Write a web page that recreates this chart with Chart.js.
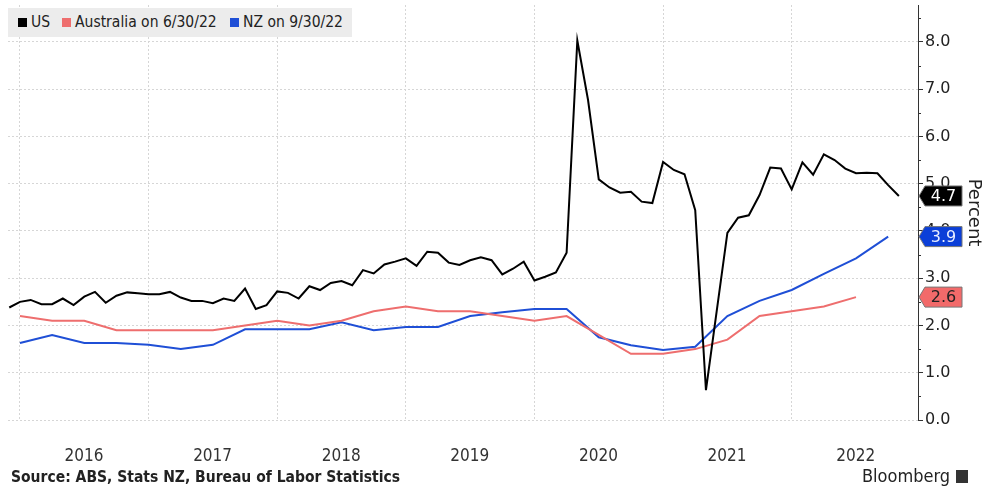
<!DOCTYPE html>
<html lang="en">
<head>
<meta charset="UTF-8">
<title>Wage growth: US, Australia, NZ</title>
<script src="https://cdn.jsdelivr.net/npm/chart.js@4.4.1/dist/chart.umd.min.js"></script>
<style>
  html, body { margin: 0; padding: 0; background: #fff; }
  .wrap { position: relative; width: 984px; height: 486px; overflow: hidden; }
  canvas { position: absolute; left: 0; top: 0; }
  .legend {
    position: absolute; left: 8px; top: 8px; width: 344px; height: 29px;
    background: #ececec; color: #222;
    font: 15.5px "DejaVu Sans Condensed", "DejaVu Sans", sans-serif;
  }
  .legend span.item { position: absolute; top: 5px; white-space: nowrap; }
  .legend i { display: inline-block; width: 9px; height: 9px; margin-right: 4px; vertical-align: 0px; }
  .source {
    position: absolute; left: 11px; top: 468px; color: #222;
    font: bold 15.5px "DejaVu Sans Condensed", "DejaVu Sans", sans-serif;
  }
  .brand {
    position: absolute; left: 862px; top: 465px; color: #222;
    font: 18px "DejaVu Sans Condensed", "DejaVu Sans", sans-serif;
  }
  .brand b { display: inline-block; width: 12px; height: 13px; background: #333; margin-left: 6px; vertical-align: -1px; }
</style>
</head>
<body>
<div class="wrap">
  <canvas id="wages" width="984" height="486"></canvas>
  <div class="legend">
    <span class="item" style="left:10px"><i style="background:#000"></i>US</span>
    <span class="item" style="left:54px"><i style="background:#ee6e6e"></i>Australia on 6/30/22</span>
    <span class="item" style="left:222px"><i style="background:#1f4fd6"></i>NZ on 9/30/22</span>
  </div>
  <div class="source">Source: ABS, Stats NZ, Bureau of Labor Statistics</div>
  <div class="brand">Bloomberg<b></b></div>
</div>

<script>
// --- data ---
// US: monthly, first point Nov 2015
const usStart = [2015, 11];
const usValues = [
  2.38, 2.50,
  2.54, 2.45, 2.45, 2.57, 2.43, 2.61, 2.71, 2.48, 2.63, 2.70, 2.68, 2.66,
  2.66, 2.71, 2.59, 2.52, 2.52, 2.47, 2.57, 2.52, 2.78, 2.35, 2.43, 2.72,
  2.69, 2.57, 2.83, 2.75, 2.90, 2.94, 2.85, 3.17, 3.10, 3.29, 3.35, 3.42,
  3.26, 3.56, 3.54, 3.33, 3.28, 3.38, 3.44, 3.38, 3.08, 3.20, 3.35, 2.95,
  3.03, 3.12, 3.54, 8.03, 6.77, 5.09, 4.92, 4.81, 4.83, 4.62, 4.59, 5.46,
  5.29, 5.20, 4.44, 0.63, 2.30, 3.96, 4.28, 4.33, 4.76, 5.34, 5.32, 4.88,
  5.45, 5.19, 5.62, 5.50, 5.32, 5.22, 5.23, 5.22, 4.97, 4.74
];
// Australia: quarterly, first point Dec 2015 (to Jun 2022)
const auStart = [2015, 12];
const auValues = [
  2.2,
  2.1, 2.1, 1.9, 1.9,
  1.9, 1.9, 2.0, 2.1,
  2.0, 2.1, 2.3, 2.4,
  2.3, 2.3, 2.2, 2.1,
  2.2, 1.8, 1.4, 1.4,
  1.5, 1.7, 2.2, 2.3,
  2.4, 2.6
];
// NZ: quarterly, first point Dec 2015 (to Sep 2022)
const nzStart = [2015, 12];
const nzValues = [
  1.63,
  1.80, 1.63, 1.63, 1.59,
  1.50, 1.59, 1.92, 1.92,
  1.92, 2.07, 1.90, 1.97,
  1.97, 2.20, 2.28, 2.35,
  2.35, 1.75, 1.58, 1.48,
  1.55, 2.20, 2.52, 2.75,
  3.09, 3.42, 3.88
];
const yearTicks = [2016, 2017, 2018, 2019, 2020, 2021, 2022];
const yearLabels = ['2016', '2017', '2018', '2019', '2020', '2021', '2022'];
const yTickLabels = ['0.0', '1.0', '2.0', '3.0', '4.0', '5.0', '6.0', '7.0', '8.0'];

// month-end position as a decimal year
function toPoints(start, values, stepMonths) {
  return values.map((v, i) => ({
    x: start[0] + (start[1] + i * stepMonths) / 12,
    y: v
  }));
}

const series = [
  { label: 'US', values: usValues, start: usStart, step: 1, color: '#000000', badge: '#000000', text: '#ffffff' },
  { label: 'Australia on 6/30/22', values: auValues, start: auStart, step: 3, color: '#ee6e6e', badge: '#f26a6a', text: '#222222' },
  { label: 'NZ on 9/30/22', values: nzValues, start: nzStart, step: 3, color: '#1f4fd6', badge: '#0b3fd8', text: '#e8eeff' }
];

const FONT = '"DejaVu Sans", sans-serif';

// last-value tags on the right axis + minor ticks
const axisExtras = {
  id: 'axisExtras',
  afterDraw(chart) {
    const ctx = chart.ctx;
    const y = chart.scales.y;
    const x0 = chart.chartArea.right;
    ctx.save();
    ctx.strokeStyle = '#333';
    ctx.lineWidth = 1;
    for (let v = 0.5; v < 8.6; v += 1) {
      const py = Math.round(y.getPixelForValue(v)) + 0.5;
      ctx.beginPath();
      ctx.moveTo(x0, py);
      ctx.lineTo(x0 + 3, py);
      ctx.stroke();
    }
    series.forEach(s => {
      const last = s.values[s.values.length - 1];
      const py = y.getPixelForValue(last);
      const h = 20, tip = 6, w = 43, bx = x0 + 1;
      ctx.beginPath();
      ctx.moveTo(bx, py);
      ctx.lineTo(bx + tip, py - h / 2);
      ctx.lineTo(bx + w, py - h / 2);
      ctx.lineTo(bx + w, py + h / 2);
      ctx.lineTo(bx + tip, py + h / 2);
      ctx.closePath();
      ctx.fillStyle = s.badge;
      ctx.fill();
      ctx.strokeStyle = '#777';
      ctx.stroke();
      ctx.fillStyle = s.text;
      ctx.font = '16px ' + FONT;
      ctx.textAlign = 'center';
      ctx.textBaseline = 'middle';
      ctx.fillText(last.toFixed(1), bx + tip + (w - tip) / 2, py + 1);
    });
    ctx.restore();
  }
};

new Chart(document.getElementById('wages'), {
  type: 'line',
  data: {
    datasets: series.map(s => ({
      label: s.label,
      data: toPoints(s.start, s.values, s.step),
      borderColor: s.color,
      backgroundColor: s.color,
      borderWidth: 2,
      pointRadius: 0,
      tension: 0
    }))
  },
  options: {
    responsive: false,
    animation: false,
    layout: { padding: { left: 8, right: 0, top: 5, bottom: 20 } },
    plugins: { legend: { display: false }, tooltip: { enabled: false } },
    scales: {
      x: {
        type: 'linear',
        min: 2015.907,
        max: 2022.982,
        afterBuildTicks: scale => { scale.ticks = yearTicks.map(v => ({ value: v })); },
        afterFit: scale => { scale.paddingLeft = 0; scale.paddingRight = 0; scale.height = 46; },
        ticks: {
          autoSkip: false,
          maxRotation: 0,
          padding: 26,
          labelOffset: 64,
          color: '#333',
          font: { family: '"DejaVu Sans Condensed", "DejaVu Sans", sans-serif', size: 17 },
          callback: (v, i) => yearLabels[i]
        },
        grid: { color: '#d6d6d6', drawTicks: false, lineWidth: 1 },
        border: { display: false, dash: [2, 2] }
      },
      y: {
        position: 'right',
        min: 0,
        max: 8.78,
        afterFit: scale => { scale.width = 66; scale.paddingTop = 0; scale.paddingBottom = 0; },
        ticks: {
          stepSize: 1,
          includeBounds: false,
          padding: 2,
          color: '#222',
          font: { family: FONT, size: 16 },
          callback: v => yTickLabels[Math.round(v)]
        },
        grid: {
          color: '#d6d6d6',
          tickColor: '#333',
          tickLength: 5,
          tickBorderDash: []
        },
        border: { display: true, color: '#333', width: 1, dash: [2, 2] },
        title: {
          display: true,
          text: 'Percent',
          color: '#222',
          padding: 0,
          font: { family: FONT, size: 18 }
        }
      }
    }
  },
  plugins: [axisExtras]
});
</script>
</body>
</html>
